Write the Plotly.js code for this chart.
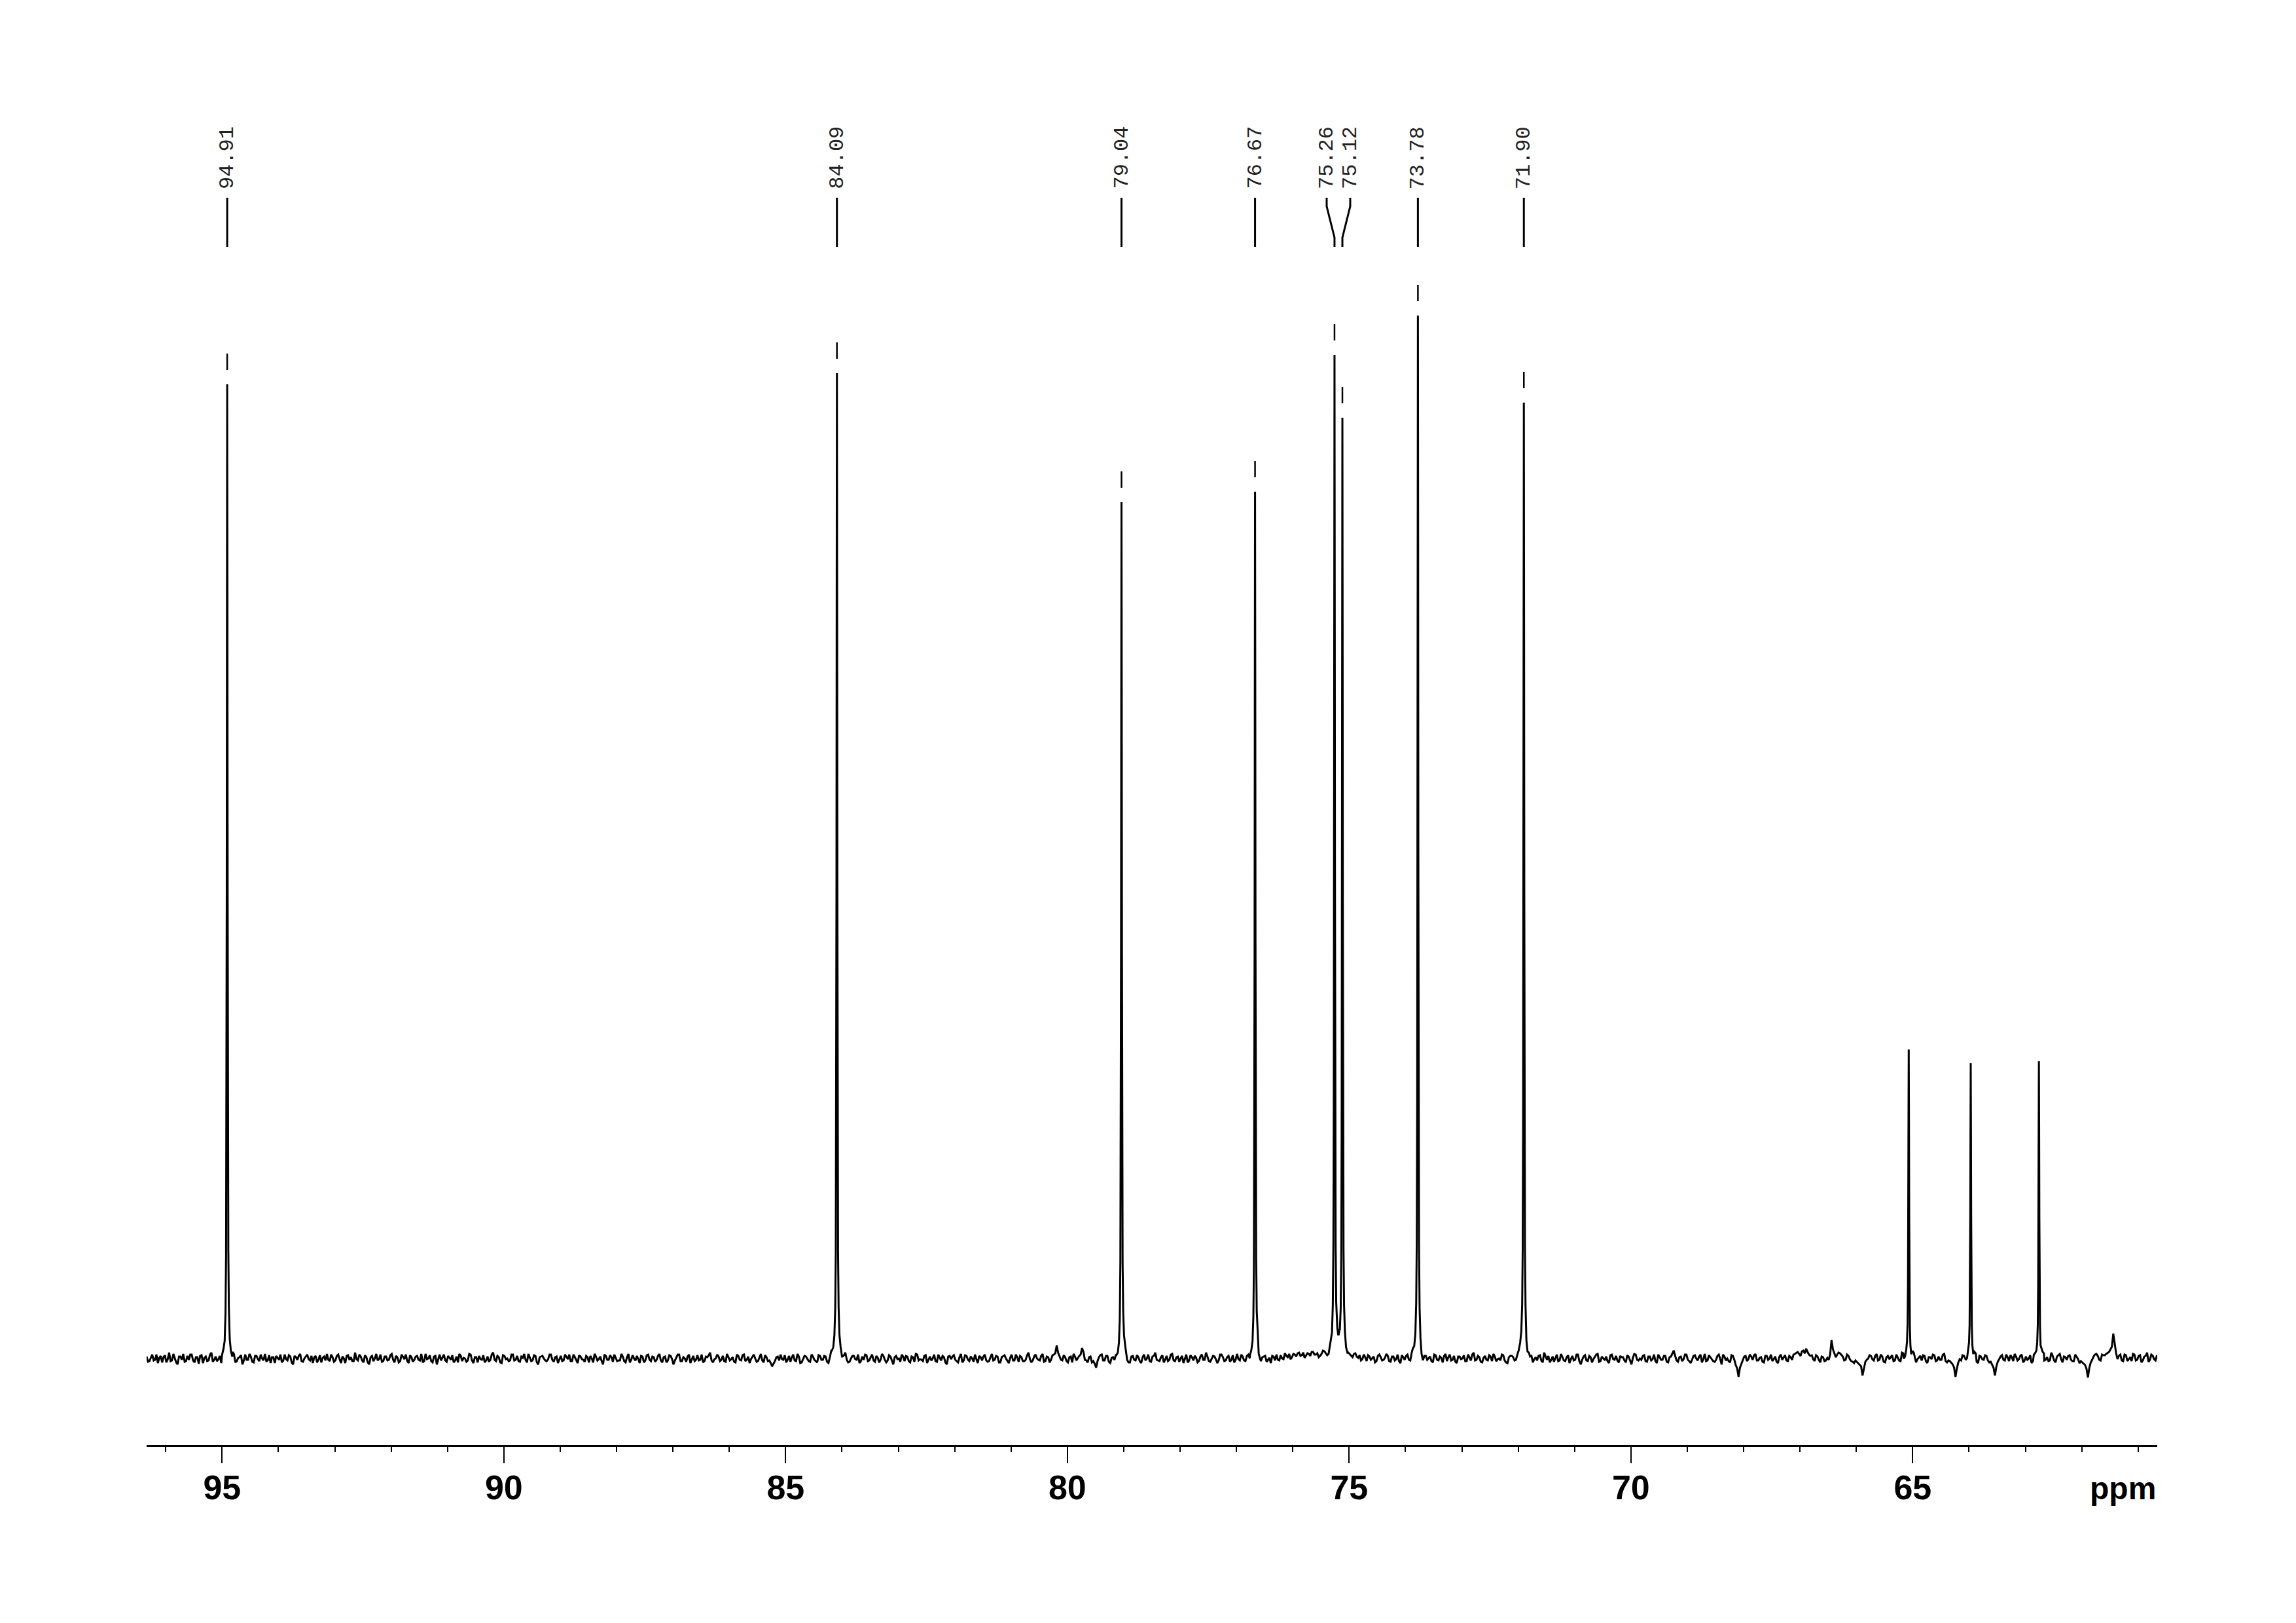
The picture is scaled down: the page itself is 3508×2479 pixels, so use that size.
<!DOCTYPE html>
<html>
<head>
<meta charset="utf-8">
<script src="https://cdn.plot.ly/plotly-3.0.1.min.js"></script>
<style>html,body{margin:0;padding:0;background:#fff;}#chart{width:3508px;height:2479px;}</style>
</head>
<body>
<div id="chart"></div>
<script>
// ---- data ----
// peak list (ppm) and heights (intensity units above baseline)
const peakPpm    = [94.91, 84.09, 79.04, 76.67, 75.26, 75.12, 73.78, 71.90, 65.07, 63.97, 62.76];
const peakHeight = [1488, 1505, 1308, 1324, 1533, 1437, 1593, 1460, 472, 451, 454];
// labelled peaks (peak-picking labels)
const labelPpm   = [94.91, 84.09, 79.04, 76.67, 75.26, 75.12, 73.78, 71.90];
const labelText  = ["94.91", "84.09", "79.04", "76.67", "75.26", "75.12", "73.78", "71.90"];
// line shape read from the peaks: offset from centre (ppm) and fraction of height
const profileOffset = [0, 0.004, 0.008, 0.013, 0.02, 0.03, 0.045, 0.065, 0.09];
const profileFrac   = [1, 0.78, 0.48, 0.24, 0.11, 0.05, 0.022, 0.01, 0.004];
// baseline noise, one reading every 0.05 ppm starting at 96.34 ppm
const noiseStart = 96.34, noiseStep = 0.05;
const noise0  = [3,-4,6,-2,-7,4,2,-6,9,-3,0,-9,3,7,-4,-2,6,-6,2,4,-7,3,-3,9,-2,-4,4,0,-6,3];
const noise1  = [-3,7,-4,2,-9,6,-2,3,-6,4,-4,0,7,-3,-7,2,4,-2,-6,6,-3,3,-9,2,4,-4,0,6,-3,-7];
const noise2  = [4,-2,-6,3,7,-4,2,-3,6,-7,0,4,-2,-4,9,-3,3,-6,2,-9,4,0,-3,6,-4,3,-2,7,-6,2];
const noise3  = [-4,3,6,-7,2,-2,4,-3,-6,7,0,-4,3,-9,6,2,-3,4,-2,-6,3,7,-4,0,-3,6,-7,2,4,-2];
const noise4  = [-6,3,-2,9,-4,2,-7,4,0,-3,6,-2,-4,3,7,-6,2,-3,4,-9,3,0,-4,6,-2,2,-7,4,-3,3];
const noise5  = [6,-4,2,-7,3,-2,4,-6,0,7,-3,3,-9,4,-2,2,6,-4,-3,3,-6,7,-2,0,4,-7,3,-3,6,-4];
const noise6  = [2,-2,7,-6,3,-3,4,-9,2,6,-4,0,3,-7,4,-2,-3,6,-4,2,9,-6,0,3,-2,-4,7,-3,2,-6];
const noise7  = [4,-3,6,-2,-7,3,0,-4,7,-6,2,-3,-12,-4,3,6,-2,-6,4,2,-3,7,-7,0,3,-4,6,-2,-6,4];
const noise8  = [-2,3,-7,6,2,-4,3,-3,9,-6,0,4,-2,-7,3,6,-4,2,-3,4,-6,7,-2,-3,3,-9,4,0,6,-4];
const noise9  = [3,-6,2,7,-3,-2,4,-7,3,0,-4,6,-3,2,-9,4,3,-2,-6,7,-3,4,-4,0,6,-7,2,3,-3,-4];
const noise10 = [7,-2,3,-6,4,0,-7,6,-3,2,4,-4,-2,9,-6,3,0,-3,7,-4,2,-2,6,20,4,-3,2,-6,3,7];
const noise11 = [-3,4,16,-2,-6,3,-4,-14,2,6,-3,4,-7,2,0,-4,3,7,-2,-6,4,-3,2,-7,6,0,-4,3,9,-3];
const noise12 = [2,-6,4,-2,7,-4,3,0,-7,6,-3,2,4,-6,3,-2,9,-4,0,3,-7,6,2,-3,4,-2,-6,7,-3,3];
const noise13 = [-4,6,0,-3,7,-6,2,4,-2,-7,3,6,-3,0,8,2,-1,7,3,9,5,1,8,4,10,6,2,7,11,5];
const noise14 = [9,6,10,7,5,9,3,7,2,8,1,-3,6,-4,3,0,-6,4,2,-2,7,-4,3,-3,6,-7,2,4,-2,9];
const noise15 = [3,7,-3,-9,4,0,-4,6,-2,3,-6,7,2,-3,4,-7,3,0,-4,6,-3,9,-2,2,-6,4,-3,3,7,-4];
const noise16 = [0,6,-3,-7,4,2,-2,7,10,8,-4,3,-6,2,4,-3,9,-2,-6,3,0,-4,7,-3,2,-7,4,-2,6,-9];
const noise17 = [3,-3,4,-6,2,7,-4,0,3,-7,6,-2,-3,4,2,-6,3,-9,7,-2,0,4,-4,3,-3,6,-7,2,-2,4];
const noise18 = [-6,3,12,-3,2,-4,6,-2,-7,4,0,3,-6,7,-3,2,-4,-2,6,-9,3,0,-6,4,-10,-28,-8,3,-4,6];
const noise19 = [-2,7,-3,2,-6,4,0,-4,3,-7,6,2,-3,4,-2,7,10,4,12,15,6,5,-4,3,-6,2,-3,-2,28,8];
const noise20 = [6,8,3,-2,4,-4,-7,-5,-9,-26,-5,0,4,-3,7,-2,3,-6,4,2,-4,6,-3,9,-2,3,-4,7,-6,2];
const noise21 = [-3,4,-7,2,6,-4,3,-2,7,-6,-4,-9,-28,-6,-3,4,-4,2,-3,6,-7,3,-2,4,-6,-9,-26,-5,3,-2];
const noise22 = [6,-4,2,7,-3,4,-6,3,0,-7,4,2,-3,6,-2,-4,9,-3,3,7,-6,2,4,-2,-4,3,-7,-6,-10,-29];
const noise23 = [-6,3,7,-2,6,5,9,14,38,8,4,-3,6,-4,2,7,-3,4,-6,3,9,-2,4,-3];
// baseline noise read half-way between the readings above
const mid0  = [-5,2,-3,6,1,-6,5,-1,-4,7,-6,3,-2,-5,4,6,-3,2,-8,5,1,-4,6,-5,3,-1,-7,4,2,-5];
const mid1  = [4,-6,1,5,-3,-2,7,-5,4,-1,6,-3,-4,5,2,-7,1,6,-3,-1,5,-6,4,-2,7,-5,3,-1,4,2];
const mid2  = [-6,5,1,-3,-2,6,-5,4,-1,3,-7,5,2,-4,-1,6,-3,5,-6,2,-4,7,-1,-5,3,-3,5,-2,4,-6];
const mid3  = [6,-1,-4,5,-5,3,-2,7,-4,-1,5,-6,4,-2,-3,6,-5,1,5,-3,-6,4,1,-5,7,-3,2,-6,-1,5];
const mid4  = [-3,-5,6,-2,4,-6,5,-1,-4,6,-3,4,-5,1,-2,7,-4,5,-6,2,4,-3,-1,6,-5,3,-2,-4,6,-1];
const mid5  = [-4,6,-3,5,-1,-5,2,4,-6,3,-1,-4,6,-2,5,-5,1,-3,7,-4,2,-6,5,-3,-1,4,-6,5,-2,3];
const mid6  = [-5,4,-3,2,-6,5,-1,-3,6,-4,2,-5,6,-1,-4,5,-2,-6,3,5,-3,-1,6,-4,4,-5,2,-1,-5,6];
const mid7  = [-2,5,-4,3,-1,6,-5,2,-3,5,-4,-7,-8,2,-3,-1,5,-2,-5,6,-4,3,-6,4,-1,-5,3,-4,5,-2];
const mid8  = [4,-5,2,-1,6,-3,-4,5,-2,-5,4,-1,6,-4,-2,5,-3,6,-5,1,-2,4,-6,5,-3,2,-1,-5,3,4];
const mid9  = [-4,3,-5,6,-1,-4,5,-2,-3,6,-5,1,4,-6,3,-1,5,-4,2,-6,5,-2,3,-5,-1,4,-3,6,-5,2];
const mid10 = [-3,4,-6,2,5,-4,1,-3,6,-5,2,-4,5,-1,-3,6,-2,4,-5,3,-6,5,8,9,-2,5,-4,2,-6,3];
const mid11 = [1,6,10,-3,2,-6,-8,-4,5,-3,4,-5,1,-2,6,-4,5,-1,-6,3,-2,5,-4,2,-3,6,-5,4,-2,-4];
const mid12 = [5,-2,-4,6,-3,2,-5,4,-1,-6,5,-3,1,-4,6,-2,3,-5,4,-1,-3,6,-4,2,-5,5,-2,-1,6,-3];
const mid13 = [4,-5,2,-1,6,-4,3,-5,1,4,-3,-2,5,-1,4,7,2,6,8,4,9,5,7,10,6,8,4,12,8,7];
const mid14 = [10,8,5,7,8,6,9,4,7,3,5,-1,2,5,-2,3,-4,6,-3,1,4,-5,3,-1,-4,5,-2,6,-3,4];
const mid15 = [6,-1,-5,4,-2,3,-6,5,-3,1,4,-4,6,-2,-5,3,-1,5,-4,2,6,-3,4,-5,1,-2,5,-4,3,-1];
const mid16 = [-3,5,-6,2,4,-3,6,9,7,2,-5,4,-1,-3,5,-6,3,4,-2,-5,6,-3,2,-4,5,-1,-3,6,-4,-2];
const mid17 = [5,-4,2,-1,6,-5,3,-2,-4,5,-1,4,-6,2,-3,5,-4,1,6,-3,-2,5,-5,3,-1,-4,6,-2,4,-5];
const mid18 = [2,7,4,-5,3,-1,6,-4,-2,5,-3,6,-1,-4,5,-2,-5,4,-1,6,-3,-4,5,-2,-15,-14,-2,4,-1,3];
const mid19 = [5,-3,1,-5,4,-2,6,-1,-5,3,-2,5,-4,2,6,9,7,11,8,10,4,-1,5,-2,3,-4,1,6,14,2];
const mid20 = [9,5,-3,6,-1,-5,-3,-8,-12,-14,-2,5,-1,4,-3,6,-5,2,-1,5,-3,2,-4,6,-2,5,-6,3,-1,4];
const mid21 = [5,-4,2,-1,5,-3,-2,6,-4,-3,-6,-14,-15,-1,5,-2,6,-4,3,-5,4,-1,5,-3,-5,-14,-12,-1,5,-3];
const mid22 = [2,5,-4,3,-1,6,-3,-2,5,-4,6,-1,4,-5,2,-3,4,-6,5,-1,3,-2,5,-4,6,-1,-4,-8,-16,-14];
const mid23 = [-2,6,4,-3,5,7,10,18,20,-1,6,-4,5,-1,-4,6,-2,5,-3,4,-5,6,-1,5];
const xTickVals = [95, 90, 85, 80, 75, 70, 65];
const axisUnit = "ppm";

// ---- build the spectrum from the readings ----
const noise = [].concat(noise0,noise1,noise2,noise3,noise4,noise5,noise6,noise7,noise8,noise9,noise10,noise11,
  noise12,noise13,noise14,noise15,noise16,noise17,noise18,noise19,noise20,noise21,noise22,noise23);
const noiseMid = [].concat(mid0,mid1,mid2,mid3,mid4,mid5,mid6,mid7,mid8,mid9,mid10,mid11,
  mid12,mid13,mid14,mid15,mid16,mid17,mid18,mid19,mid20,mid21,mid22,mid23);
const xMin = 60.66, xMax = 96.34;
function nearestFrac(d){
  if (d > 0.1) return 0;
  let best = 0, bd = Infinity;
  profileOffset.forEach((o,j)=>{ const e = Math.abs(o-d); if (e < bd){ bd = e; best = j; } });
  return profileFrac[best];
}
function nearestNoise(x){
  let i = Math.round((noiseStart - x)/noiseStep);
  i = Math.max(0, Math.min(noise.length-1, i));
  return noise[i];
}
const pts = [];
const farFromPeaks = x => peakPpm.every(c=>Math.abs(x-c) > 0.09);
noise.forEach((v,i)=>{ const x = noiseStart - noiseStep*i; if (x>=xMin && farFromPeaks(x)) pts.push({x, v}); });
noiseMid.forEach((v,i)=>{ const x = noiseStart - noiseStep*(i+0.5); if (x>=xMin && farFromPeaks(x)) pts.push({x, v}); });
peakPpm.forEach(c=>{
  profileOffset.forEach(o=>{
    if (o === 0) pts.push({x:c, v:nearestNoise(c)});
    else { pts.push({x:c-o, v:nearestNoise(c-o)}); pts.push({x:c+o, v:nearestNoise(c+o)}); }
  });
});
pts.sort((a,b)=>b.x-a.x);
const specX = [], specY = [];
pts.forEach(p=>{
  let sum = 0, fmax = 0;
  peakPpm.forEach((c,k)=>{ const f = nearestFrac(Math.abs(p.x-c)); sum += peakHeight[k]*f; if (f>fmax) fmax=f; });
  specX.push(p.x); specY.push(p.v*(1-fmax) + sum);
});

// ---- peak-pick markers above labelled peaks ----
const mkX = [], mkY = [];
labelPpm.forEach(p=>{
  const k = peakPpm.indexOf(p); const h = peakHeight[k];
  mkX.push(p, p, null); mkY.push(h+22, h+47, null);
});

// ---- label positions (spread apart when crowded) ----
const sep = 0.418;
const order = labelPpm.map((p,i)=>i).sort((a,b)=>labelPpm[b]-labelPpm[a]);
const labX = labelPpm.slice();
let clusters = [], cur = [order[0]];
for (let n=1;n<order.length;n++){
  if (labelPpm[order[n-1]] - labelPpm[order[n]] < sep) cur.push(order[n]);
  else { clusters.push(cur); cur = [order[n]]; }
}
clusters.push(cur);
clusters.forEach(cl=>{
  const mean = cl.reduce((s,i)=>s+labelPpm[i],0)/cl.length;
  cl.forEach((i,j)=>{ labX[i] = mean + sep*((cl.length-1)/2 - j); });
});
const lnX = [], lnY = [];
const yTop = 1773, yBend1 = 1760, yBend2 = 1712, yBot = 1698;
labelPpm.forEach((p,i)=>{
  if (Math.abs(labX[i]-p) < 1e-6){ lnX.push(p,p,null); lnY.push(yTop,yBot,null); }
  else { lnX.push(labX[i],labX[i],p,p,null); lnY.push(yTop,yBend1,yBend2,yBot,null); }
});

const annotations = labelPpm.map((p,i)=>({
  x: labX[i], y: 1784, xref:'x', yref:'y', text: labelText[i], showarrow:false,
  textangle: -90, xanchor:'center', yanchor:'bottom',
  font:{family:'Liberation Mono, Courier New, monospace', size:32, color:'#222'}
}));
annotations.push({
  x: 1, xref:'paper', xanchor:'right', y: -0.0308, yref:'paper', yanchor:'middle',
  text: axisUnit, showarrow:false,
  font:{family:'Liberation Sans, Arial, sans-serif', size:48, color:'#000', weight:'bold'}
});

const traces = [
  {x: specX, y: specY, type:'scatter', mode:'lines', line:{color:'#000', width:3}, hoverinfo:'skip'},
  {x: mkX, y: mkY, type:'scatter', mode:'lines', line:{color:'#000', width:2.5}, hoverinfo:'skip'},
  {x: lnX, y: lnY, type:'scatter', mode:'lines', line:{color:'#000', width:3}, hoverinfo:'skip'}
];

const layout = {
  width: 3508, height: 2479,
  margin: {l:224, r:212, t:60, b:272, pad:0},
  paper_bgcolor:'#fff', plot_bgcolor:'#fff', showlegend:false,
  xaxis: {
    range:[xMax, xMin], showline:true, linewidth:3, linecolor:'#000',
    ticks:'outside', ticklen:25, tickwidth:2, tickcolor:'#000',
    tickmode:'array', tickvals: xTickVals, ticktext: xTickVals.map(String),
    ticklabelstandoff: -7,
    tickfont:{family:'Liberation Sans, Arial, sans-serif', size:52, color:'#000', weight:'bold'},
    minor:{dtick:1, tick0:0, ticks:'outside', ticklen:8, tickwidth:2, tickcolor:'#000', showgrid:false},
    showgrid:false, zeroline:false, fixedrange:true
  },
  yaxis: {range:[-132, 2015], visible:false, fixedrange:true},
  annotations: annotations
};
Plotly.newPlot('chart', traces, layout, {staticPlot:true});
</script>
</body>
</html>
